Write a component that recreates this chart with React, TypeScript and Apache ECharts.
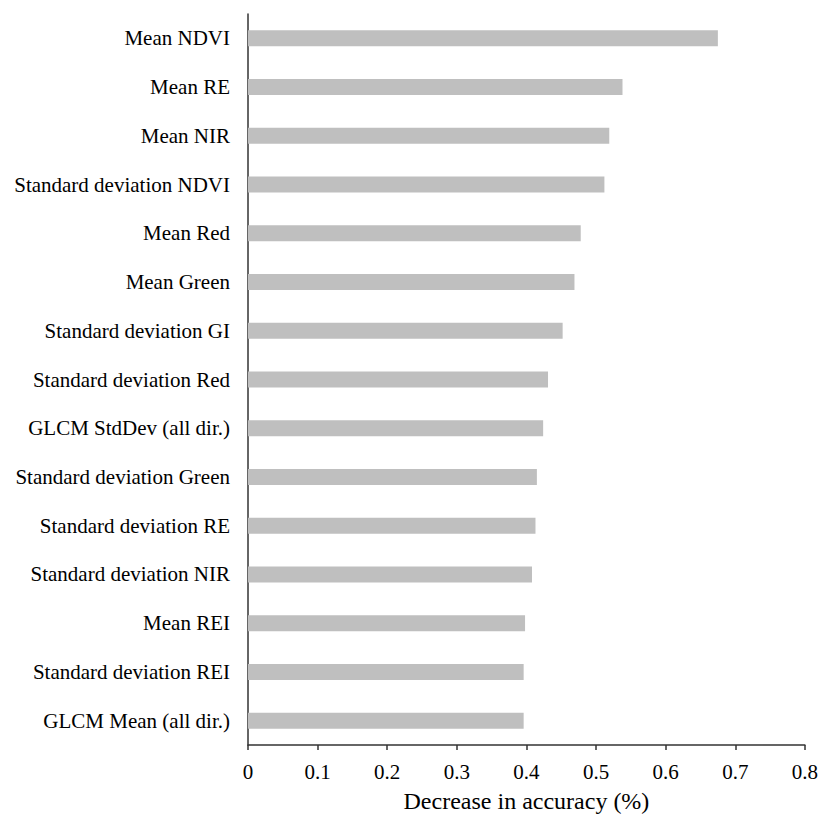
import React, { useEffect, useRef } from "react";
import * as echarts from "echarts";

const categories = [
  "Mean NDVI",
  "Mean RE",
  "Mean NIR",
  "Standard deviation NDVI",
  "Mean Red",
  "Mean Green",
  "Standard deviation GI",
  "Standard deviation Red",
  "GLCM StdDev (all dir.)",
  "Standard deviation Green",
  "Standard deviation RE",
  "Standard deviation NIR",
  "Mean REI",
  "Standard deviation REI",
  "GLCM Mean (all dir.)",
];

const values = [
  0.675, 0.538, 0.519, 0.512, 0.478, 0.469, 0.452, 0.431, 0.424, 0.415, 0.413,
  0.408, 0.398, 0.396, 0.396,
];

const xTickLabels = ["0", "0.1", "0.2", "0.3", "0.4", "0.5", "0.6", "0.7", "0.8"];

const xTitle = "Decrease in accuracy (%)";

const FONT = "'Liberation Serif', 'DejaVu Serif', serif";

export default function App() {
  const ref = useRef<HTMLDivElement>(null);

  useEffect(() => {
    if (!ref.current) return;
    const chart = echarts.init(ref.current, undefined, { renderer: "svg" });
    chart.setOption({
      animation: false,
      backgroundColor: "#ffffff",
      grid: { left: 248, right: 15, top: 14, bottom: 70, containLabel: false },
      xAxis: {
        type: "value",
        min: 0,
        max: 0.8,
        interval: 0.1,
        name: xTitle,
        nameLocation: "middle",
        nameGap: 44,
        nameTextStyle: { fontFamily: FONT, fontSize: 24, color: "#000" },
        axisLine: { show: true, lineStyle: { color: "#333", width: 1.5 } },
        axisTick: { show: true, length: 5, lineStyle: { color: "#333", width: 1.5 } },
        splitLine: { show: false },
        axisLabel: {
          fontFamily: FONT,
          fontSize: 21,
          color: "#000",
          margin: 16,
          formatter: (v: number) => xTickLabels[Math.round(v * 10)] ?? String(v),
        },
      },
      yAxis: {
        type: "category",
        inverse: true,
        data: categories,
        axisLine: { show: true, lineStyle: { color: "#333", width: 1.5 } },
        axisTick: { show: false },
        axisLabel: {
          fontFamily: FONT,
          fontSize: 21,
          color: "#000",
          margin: 18,
        },
      },
      series: [
        {
          type: "bar",
          data: values,
          barWidth: 16,
          itemStyle: { color: "#bfbfbf" },
        },
      ],
    });
    return () => chart.dispose();
  }, []);

  return (
    <div
      ref={ref}
      style={{ position: "fixed", left: 0, top: 0, width: 821, height: 818 }}
    />
  );
}
